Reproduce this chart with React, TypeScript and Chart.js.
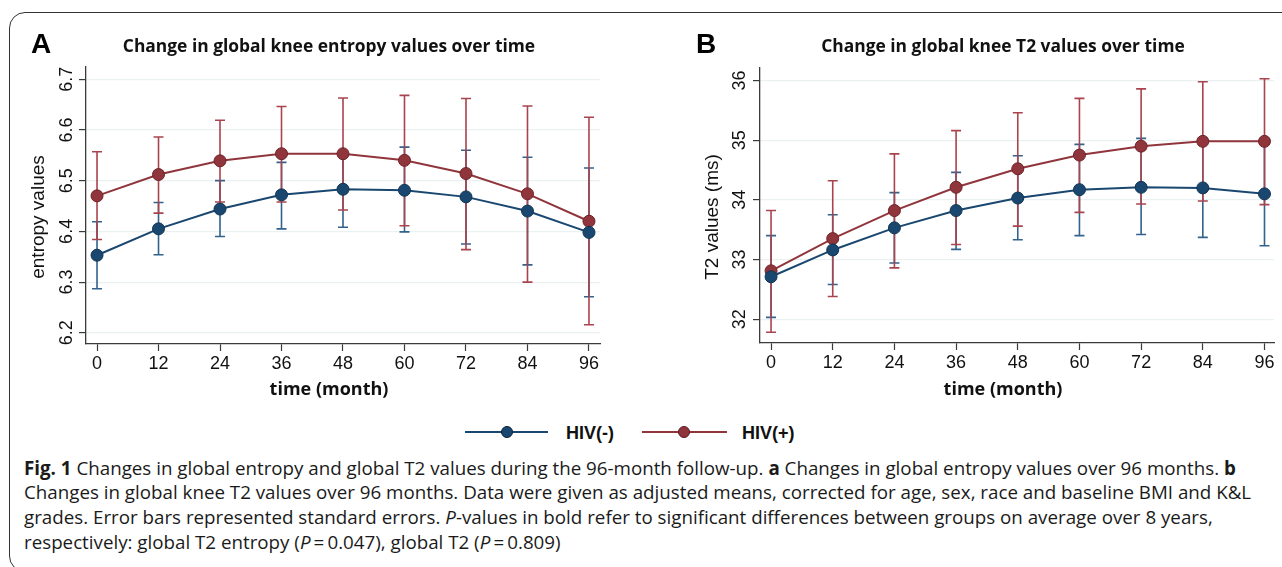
import React, { useEffect, useRef } from "react";
import { Chart, registerables } from "chart.js";

Chart.register(...registerables);

// ---------------- data ----------------
const months = [0, 12, 24, 36, 48, 60, 72, 84, 96];

const entropyTicks = [6.2, 6.3, 6.4, 6.5, 6.6, 6.7];
const entropyTickLabels = ["6.2", "6.3", "6.4", "6.5", "6.6", "6.7"];
const t2Ticks = [32, 33, 34, 35, 36];
const t2TickLabels = ["32", "33", "34", "35", "36"];

const entropyHivNeg = [6.353, 6.405, 6.444, 6.472, 6.483, 6.481, 6.468, 6.44, 6.398];
const entropyHivNegLo = [6.287, 6.354, 6.39, 6.405, 6.408, 6.399, 6.375, 6.334, 6.271];
const entropyHivNegHi = [6.419, 6.457, 6.5, 6.536, 6.555, 6.566, 6.56, 6.546, 6.525];
const entropyHivPos = [6.47, 6.512, 6.539, 6.553, 6.553, 6.54, 6.514, 6.474, 6.42];
const entropyHivPosLo = [6.384, 6.436, 6.458, 6.458, 6.442, 6.411, 6.364, 6.3, 6.216];
const entropyHivPosHi = [6.557, 6.586, 6.619, 6.646, 6.663, 6.668, 6.662, 6.647, 6.625];

const t2HivNeg = [32.71, 33.16, 33.53, 33.82, 34.03, 34.17, 34.21, 34.2, 34.1];
const t2HivNegLo = [32.03, 32.58, 32.94, 33.17, 33.33, 33.4, 33.42, 33.37, 33.23];
const t2HivNegHi = [33.4, 33.75, 34.12, 34.46, 34.74, 34.93, 35.03, 35.03, 34.97];
const t2HivPos = [32.81, 33.35, 33.82, 34.21, 34.52, 34.75, 34.9, 34.98, 34.98];
const t2HivPosLo = [31.78, 32.38, 32.86, 33.25, 33.56, 33.79, 33.93, 33.98, 33.92];
const t2HivPosHi = [33.82, 34.32, 34.77, 35.16, 35.46, 35.7, 35.86, 35.98, 36.03];

const seriesNames = ["HIV(-)", "HIV(+)"];

// ---------------- styles ----------------
const BLUE = "#1a476f";
const RED = "#90353b";
const BLUE_BAR = "#33628c";
const RED_BAR = "#a9444e";
const AXIS = "#3a3a3a";
const GRID = "#e9f1f2";
const SANS = '"Liberation Sans", Arial, sans-serif';
const OPEN = '"Open Sans", "Liberation Sans", sans-serif';

type Spec = {
  letter: string;
  title: string;
  yTitle: string;
  yTicks: number[];
  yTickLabels: string[];
  yMin: number;
  yMax: number;
  xMin: number;
  xMax: number;
  neg: number[];
  negLo: number[];
  negHi: number[];
  pos: number[];
  posLo: number[];
  posHi: number[];
  left: number;
  width: number;
  height: number;
  yWidth: number;
  padRight: number;
  padTop: number;
  xHeight: number;
  yTickBase: number;
  yTitleX: number;
  titleX: number;
  letterX: number;
};

const specA: Spec = {
  letter: "A",
  title: "Change in global knee entropy values over time",
  yTitle: "entropy values",
  yTicks: entropyTicks,
  yTickLabels: entropyTickLabels,
  yMin: 6.178,
  yMax: 6.724,
  xMin: -2.15,
  xMax: 98.15,
  neg: entropyHivNeg,
  negLo: entropyHivNegLo,
  negHi: entropyHivNegHi,
  pos: entropyHivPos,
  posLo: entropyHivPosLo,
  posHi: entropyHivPosHi,
  left: 0,
  width: 640,
  height: 410,
  yWidth: 86,
  padRight: 40,
  padTop: 67,
  xHeight: 66,
  yTickBase: 72,
  yTitleX: 39,
  titleX: 329,
  letterX: 31,
};

const specB: Spec = {
  letter: "B",
  title: "Change in global knee T2 values over time",
  yTitle: "T2 values (ms)",
  yTicks: t2Ticks,
  yTickLabels: t2TickLabels,
  yMin: 31.6,
  yMax: 36.21,
  xMin: -2.15,
  xMax: 97.85,
  neg: t2HivNeg,
  negLo: t2HivNegLo,
  negHi: t2HivNegHi,
  pos: t2HivPos,
  posLo: t2HivPosLo,
  posHi: t2HivPosHi,
  left: 640,
  width: 642,
  height: 410,
  yWidth: 120,
  padRight: 8,
  padTop: 68,
  xHeight: 67,
  yTickBase: 105,
  yTitleX: 73,
  titleX: 363,
  letterX: 56,
};

function makeChart(canvas: HTMLCanvasElement, s: Spec) {
  const errorBars = {
    id: "errorBars",
    beforeDatasetsDraw(chart: any) {
      const ctx = chart.ctx;
      const xs = chart.scales.x;
      const ys = chart.scales.y;
      const groups = [
        { lo: s.negLo, hi: s.negHi, color: BLUE_BAR },
        { lo: s.posLo, hi: s.posHi, color: RED_BAR },
      ];
      ctx.save();
      ctx.lineWidth = 1.6;
      for (const g of groups) {
        ctx.strokeStyle = g.color;
        for (let i = 0; i < months.length; i++) {
          const x = xs.getPixelForValue(months[i]);
          const yl = ys.getPixelForValue(g.lo[i]);
          const yh = ys.getPixelForValue(g.hi[i]);
          ctx.beginPath();
          ctx.moveTo(x, yl);
          ctx.lineTo(x, yh);
          ctx.moveTo(x - 5, yl);
          ctx.lineTo(x + 5, yl);
          ctx.moveTo(x - 5, yh);
          ctx.lineTo(x + 5, yh);
          ctx.stroke();
        }
      }
      ctx.restore();
    },
  };

  const texts = {
    id: "texts",
    afterDraw(chart: any) {
      const ctx = chart.ctx;
      const ys = chart.scales.y;
      ctx.save();
      ctx.fillStyle = "#000";
      // panel letter
      ctx.font = `bold 28px ${SANS}`;
      ctx.textAlign = "left";
      ctx.textBaseline = "alphabetic";
      ctx.fillText(s.letter, s.letterX, 53);
      // title
      ctx.fillStyle = "#111";
      ctx.font = `bold 17.4px ${OPEN}`;
      ctx.textAlign = "center";
      ctx.textBaseline = "middle";
      ctx.fillText(s.title, s.titleX, 47);
      // x title
      ctx.font = `bold 18px ${OPEN}`;
      ctx.fillText("time (month)", s.titleX, 390);
      // y title
      ctx.save();
      ctx.translate(s.yTitleX, 217);
      ctx.rotate(-Math.PI / 2);
      ctx.font = `19px ${SANS}`;
      ctx.textAlign = "center";
      ctx.textBaseline = "middle";
      ctx.fillText(s.yTitle, 0, 0);
      ctx.restore();
      // rotated y tick labels
      ctx.font = `18px ${SANS}`;
      for (let i = 0; i < s.yTicks.length; i++) {
        const y = ys.getPixelForValue(s.yTicks[i]);
        ctx.save();
        ctx.translate(s.yTickBase, y);
        ctx.rotate(-Math.PI / 2);
        ctx.textAlign = "center";
        ctx.textBaseline = "alphabetic";
        ctx.fillText(s.yTickLabels[i], 0, 0);
        ctx.restore();
      }
      ctx.restore();
    },
  };

  return new Chart(canvas, {
    type: "line",
    data: {
      datasets: [
        {
          label: seriesNames[0],
          data: months.map((m, i) => ({ x: m, y: s.neg[i] })),
          borderColor: BLUE,
          backgroundColor: BLUE,
          pointBackgroundColor: BLUE,
          pointBorderColor: "#123452",
          pointBorderWidth: 1,
          pointRadius: 6,
          borderWidth: 2,
          tension: 0,
        },
        {
          label: seriesNames[1],
          data: months.map((m, i) => ({ x: m, y: s.pos[i] })),
          borderColor: RED,
          backgroundColor: RED,
          pointBackgroundColor: RED,
          pointBorderColor: "#6e2228",
          pointBorderWidth: 1,
          pointRadius: 6,
          borderWidth: 2,
          tension: 0,
        },
      ],
    },
    options: {
      responsive: false,
      animation: false,
      layout: { padding: { left: 0, top: s.padTop, right: s.padRight, bottom: 0 } },
      plugins: { legend: { display: false }, tooltip: { enabled: false }, title: { display: false } },
      scales: {
        x: {
          type: "linear",
          min: s.xMin,
          max: s.xMax,
          afterBuildTicks: (sc: any) => {
            sc.ticks = months.map((v) => ({ value: v }));
          },
          afterFit: (sc: any) => {
            sc.height = s.xHeight;
          },
          ticks: {
            font: { family: SANS, size: 18 },
            color: "#111",
            padding: 2,
            maxRotation: 0,
            minRotation: 0,
            autoSkip: false,
            callback: (v: any) => String(v),
          },
          grid: { drawOnChartArea: false, drawTicks: true, tickLength: 7, tickColor: AXIS, tickWidth: 1.2 },
          border: { display: true, color: AXIS, width: 1.3 },
        },
        y: {
          type: "linear",
          min: s.yMin,
          max: s.yMax,
          afterBuildTicks: (sc: any) => {
            sc.ticks = s.yTicks.map((v) => ({ value: v }));
          },
          afterFit: (sc: any) => {
            sc.width = s.yWidth;
          },
          ticks: { display: false },
          grid: { color: GRID, lineWidth: 1.2, drawTicks: true, tickLength: 7, tickColor: AXIS, tickWidth: 1.2 },
          border: { display: true, color: AXIS, width: 1.3 },
        },
      },
    },
    plugins: [errorBars, texts],
  } as any);
}

function Panel({ spec }: { spec: Spec }) {
  const ref = useRef<HTMLCanvasElement | null>(null);
  useEffect(() => {
    if (!ref.current) return;
    const c = makeChart(ref.current, spec);
    return () => c.destroy();
  }, [spec]);
  return (
    <canvas
      ref={ref}
      width={spec.width}
      height={spec.height}
      style={{ position: "absolute", left: spec.left, top: 0, width: spec.width, height: spec.height }}
    />
  );
}

function LegendItem({ x1, x2, cx, tx, color, border, label }: any) {
  return (
    <>
      <div style={{ position: "absolute", left: x1, top: 431, width: x2 - x1, height: 2, background: color }} />
      <div
        style={{
          position: "absolute",
          left: cx - 6,
          top: 426,
          width: 12,
          height: 12,
          borderRadius: "50%",
          background: color,
          border: `1px solid ${border}`,
          boxSizing: "border-box",
        }}
      />
      <div
        style={{
          position: "absolute",
          left: tx,
          top: 422,
          font: `bold 18px ${SANS}`,
          lineHeight: "22px",
          color: "#111",
          whiteSpace: "nowrap",
        }}
      >
        {label}
      </div>
    </>
  );
}

export default function App() {
  return (
    <div
      style={{
        position: "fixed",
        left: 0,
        top: 0,
        width: 1282,
        height: 567,
        overflow: "hidden",
        background: "#fff",
      }}
    >
      <div
        style={{
          position: "absolute",
          left: 9,
          top: 12,
          width: 1320,
          height: 560,
          border: "1.5px solid #333",
          borderRadius: 16,
          boxSizing: "border-box",
        }}
      />
      <Panel spec={specA} />
      <Panel spec={specB} />
      <LegendItem x1={465} x2={548} cx={507} tx={566} color={BLUE} border="#0b2036" label={seriesNames[0]} />
      <LegendItem x1={642} x2={727} cx={684} tx={742} color={RED} border="#5a1a20" label={seriesNames[1]} />
      <div
        style={{
          position: "absolute",
          left: 24,
          top: 455.5,
          font: `18.75px ${OPEN}`,
          lineHeight: "24.7px",
          color: "#1a1a1a",
          whiteSpace: "nowrap",
        }}
      >
        <b>Fig. 1</b> Changes in global entropy and global T2 values during the 96-month follow-up. <b>a</b> Changes in
        global entropy values over 96 months. <b>b</b>
        <br />
        Changes in global knee T2 values over 96 months. Data were given as adjusted means, corrected for age, sex, race
        and baseline BMI and K&amp;L
        <br />
        grades. Error bars represented standard errors. <i>P</i>-values in bold refer to significant differences between
        groups on average over 8 years,
        <br />
        respectively: global T2 entropy (<i>P</i>{"\u2009=\u2009"}0.047), global T2 (<i>P</i>
        {"\u2009=\u2009"}0.809)
      </div>
    </div>
  );
}
